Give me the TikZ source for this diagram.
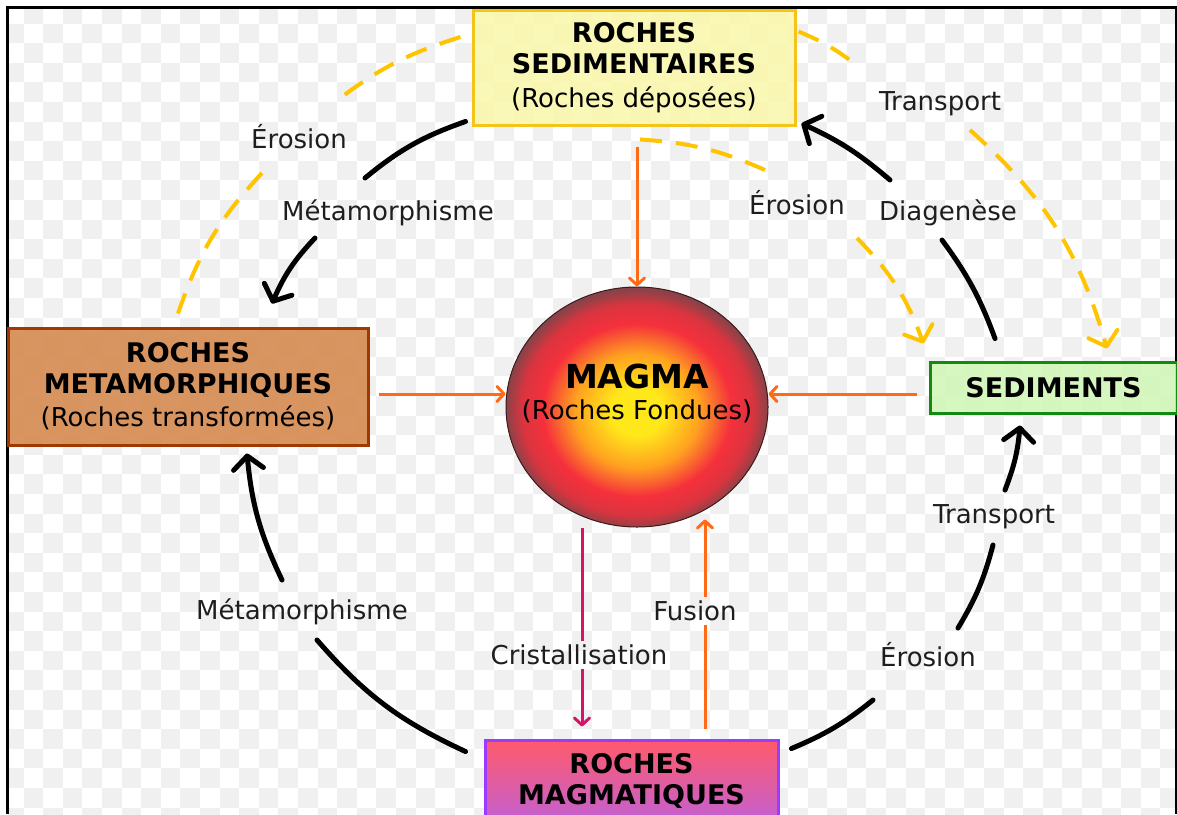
\documentclass[tikz,border=0pt]{standalone}
\usepackage{fontspec}
\setmainfont{DejaVu Sans}
\usetikzlibrary{arrows.meta,shapes.geometric}
\definecolor{cGold}{HTML}{FFC400}
\definecolor{sedFill}{HTML}{FAF7AE}
\definecolor{sedLine}{HTML}{F5C418}
\definecolor{metFill}{HTML}{D58A50}
\definecolor{metLine}{HTML}{A03800}
\definecolor{smtFill}{HTML}{D3F6BA}
\definecolor{smtLine}{HTML}{118A11}
\definecolor{mgmTop}{HTML}{FF5A6A}
\definecolor{mgmBot}{HTML}{C360D2}
\definecolor{mgmLine}{HTML}{9B3BFF}
\definecolor{cOrange}{HTML}{FF6A17}
\definecolor{cCrim}{HTML}{D2156B}
\definecolor{chkGray}{HTML}{F0F0F0}
\definecolor{txtGray}{HTML}{1E1E1E}
\definecolor{mgY}{HTML}{FFE81A}
\definecolor{mgO}{HTML}{FFA020}
\definecolor{mgR}{HTML}{F5303C}
\definecolor{mgD}{HTML}{8A4248}
\definecolor{mgEdge}{HTML}{3A1A1A}
\pgfdeclareradialshading{magmaball}{\pgfpoint{0bp}{-1bp}}{color(0bp)=(mgY); color(5bp)=(mgY); color(12bp)=(mgO); color(18bp)=(mgR); color(22bp)=(mgR!75!mgD); color(25bp)=(mgD); color(50bp)=(mgD)}
\newcommand\ttlfont{\fontsize{27}{31}\selectfont\bfseries}
\newcommand\lblfont{\fontsize{26}{31}\selectfont}

\begin{document}
\begin{tikzpicture}[x=1pt,y=-1pt,
  box/.style={draw, line width=3pt, align=center, inner sep=0pt, font=\ttlfont, text=black},
  lbl/.style={font=\lblfont, text=txtGray, inner sep=4pt},
  blk/.style={line width=5pt, line cap=round},
  ydash/.style={draw=cGold, line width=4pt, dash pattern=on 22pt off 14pt},
  bar/.style={-{Straight Barb[length=13pt,width=30pt,round]}},
  thn/.style={line width=3pt},
  tip/.style={-{Straight Barb[length=7pt,width=15pt,round]}}]
\useasboundingbox (0,0) rectangle (1177,814);
\clip (0,0) rectangle (1177,814);
\begin{scope}
\clip (8,8) rectangle (1177,814);
\foreach \j in {0,...,41}{\foreach \i in {0,...,59}{%
  \pgfmathtruncatemacro\k{mod(\i+\j,2)}%
  \ifnum\k=1 \fill[chkGray] ({4+19.6*\i},{4+19.6*\j}) rectangle +(19.6,19.6);\fi}}
\end{scope}
\draw[line width=2.5pt] (7.5,814) -- (7.5,7.5) -- (1176,7.5) -- (1176,814);

\node[box, draw=sedLine, fill=sedFill, fill opacity=.9, text opacity=1, minimum width=322pt, minimum height=115pt] (sed) at (634,67.5) {ROCHES\\SEDIMENTAIRES\\[3pt]{\mdseries\fontsize{26}{31}\selectfont(Roches déposées)}};
\node[box, draw=metLine, fill=metFill, fill opacity=.9, text opacity=1, minimum width=360pt, minimum height=117pt] (meta) at (188,386.5) {ROCHES\\METAMORPHIQUES\\[2pt]{\mdseries\fontsize{26}{31}\selectfont(Roches transformées)}};
\node[box, draw=smtLine, fill=smtFill, fill opacity=.9, text opacity=1, minimum width=247pt, minimum height=51pt] (smt) at (1053.5,387.5) {SEDIMENTS};
\node[box, draw=mgmLine, top color=mgmTop, bottom color=mgmBot, minimum width=293pt, minimum height=82pt] (mgm) at (631.5,781) {ROCHES\\MAGMATIQUES};
\node[ellipse, draw=mgEdge, line width=1pt, shading=magmaball, minimum width=262pt, minimum height=240pt, inner sep=0pt] (magma) at (637,407) {};
\node[align=center, font=\lblfont, text=black] (magTxt) at (637,393) {{\fontsize{33}{36}\selectfont\bfseries MAGMA}\\(Roches Fondues)};

\node[lbl] (erTL) at (299,137) {Érosion};
\node[lbl] (metTL) at (388,213) {Métamorphisme};
\node[lbl] (trTR) at (940,104) {Transport};
\node[lbl] (erMid) at (797,203) {Érosion};
\node[lbl] (diag) at (948,213) {Diagenèse};
\node[lbl] (metBL) at (302,612) {Métamorphisme};
\node[lbl] (cris) at (579,655) {Cristallisation};
\node[lbl] (fus) at (695,611) {Fusion};
\node[lbl] (erBR) at (928,655) {Érosion};
\node[lbl] (trBR) at (994,517) {Transport};

\draw[blk] ([shift={(-6,-5)}]sed.south west) to[bend right=10] ([shift={(-23,-35)}]metTL.center);
\draw[blk,bar] ([shift={(-73,25)}]metTL.center) to[bend right=10] ([shift={(84,-23)}]meta.north);
\draw[blk] ([shift={(-18,13)}]mgm.north west) to[bend left=12] ([shift={(15,28)}]metBL.center);
\draw[blk,bar] ([shift={(-20,-32)}]metBL.center) to[bend left=10] ([shift={(59,7)}]meta.south);
\draw[blk] ([shift={(12,10)}]mgm.north east) to[bend right=8] ([shift={(-55,45)}]erBR.center);
\draw[blk] ([shift={(30,-27)}]erBR.center) to[bend right=8] ([shift={(-1,28)}]trBR.center);
\draw[blk,bar] ([shift={(11,-27)}]trBR.center) to[bend right=8] ([shift={(-33.5,11)}]smt.south);
\draw[blk] ([shift={(-58.5,-22)}]smt.north) to[bend right=8] ([shift={(-6,27)}]diag.center);
\draw[blk,bar] ([shift={(-58,-33)}]diag.center) to[bend right=8] ([shift={(5,-3)}]sed.south east);

\draw[ydash] ([shift={(-11,-30.5)}]sed.west) to[bend right=10] ([shift={(36,-35)}]erTL.center);
\draw[ydash] ([shift={(-37,36)}]erTL.center) to[bend right=12] ([shift={(-10,-13)}]meta.north);
\draw[ydash] ([shift={(6,13)}]sed.south) to[bend left=10] ([shift={(-32,-33)}]erMid.center);
\draw[ydash,bar] ([shift={(60,35)}]erMid.center) to[bend left=12] ([shift={(-5,-17)}]smt.north west);
\draw[ydash] ([shift={(2,23)}]sed.north east) to[bend left=8] ([shift={(-80,-36)}]trTR.center);
\draw[ydash,bar] ([shift={(30,26)}]trTR.center) to[bend left=16] ([shift={(53.5,-12)}]smt.north);

\draw[thn,tip,cOrange] ([shift={(3,20)}]sed.south) -- (magma.north);
\draw[thn,tip,cOrange] ([shift={(9,7.5)}]meta.east) -- ([shift={(0,-13)}]magma.west);
\draw[thn,tip,cOrange] ([shift={(-12,6.5)}]smt.west) -- ([shift={(0,-13)}]magma.east);
\draw[thn,cCrim] ([xshift=-55pt]magma.south) -- ([xshift=-55pt]magma.south |- cris.north);
\draw[thn,tip,cCrim] ([xshift=-55pt]magma.south |- cris.south) -- ([shift={(-49.5,-12)}]mgm.north);
\draw[thn,cOrange] ([shift={(73.5,-10)}]mgm.north) -- ([xshift=73.5pt]mgm.north |- fus.south);
\draw[thn,tip,cOrange] ([xshift=73.5pt]mgm.north |- fus.north) -- ([shift={(68,-8)}]magma.south);
\end{tikzpicture}
\end{document}
